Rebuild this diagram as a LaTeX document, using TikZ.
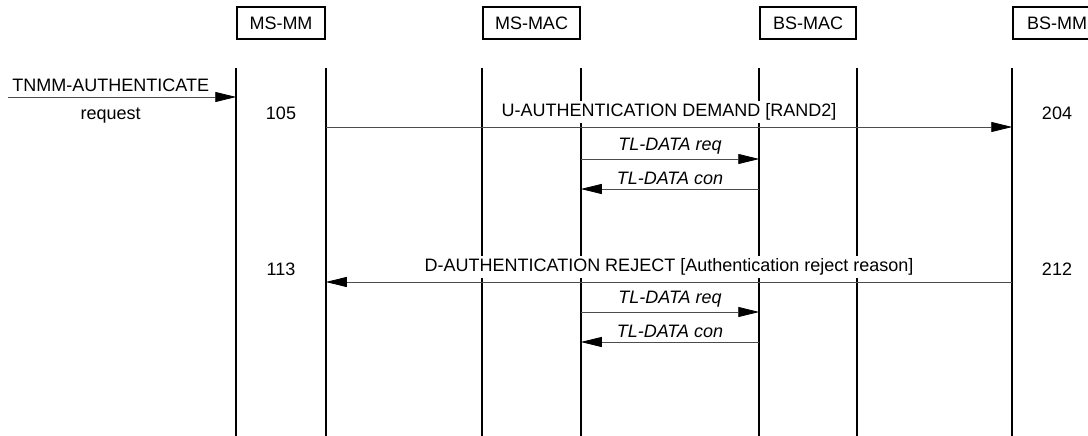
\documentclass[tikz,border=0pt]{standalone}
\usepackage{fontspec}
\setmainfont{Liberation Sans}
\usetikzlibrary{arrows.meta}
\tikzset{hdr/.style={draw,line width=1.5pt,minimum height=32pt,inner sep=0pt},
         life/.style={line width=1.8pt},
         msg/.style={-{Triangle[length=21pt,width=10pt,color=black]},line width=.8pt,draw=black!70},
         txt/.style={inner sep=2.5pt,fill=white},
         itl/.style={txt,font=\fontsize{18}{21}\selectfont\itshape}}

\begin{document}
\begin{tikzpicture}[x=1pt,y=-1pt,font=\fontsize{18}{21}\selectfont]
  \useasboundingbox (0,0) rectangle (1088,436);
  \clip (0,0) rectangle (1088,436);
  \node[hdr,minimum width=88pt] (msmm) at (281,23) {MS-MM};
  \node[hdr,minimum width=97pt] (msmac) at (531.5,23) {MS-MAC};
  \node[hdr,minimum width=96pt] (bsmac) at (808,23) {BS-MAC};
  \node[hdr,minimum width=88pt] (bsmm) at (1057,23) {BS-MM};
  \coordinate (top) at (0,68);
  \coordinate (bot) at (0,436);
  \foreach \n in {msmm,msmac,bsmac,bsmm}
    \draw[life] (\n.south west |- top) -- (\n.south west |- bot)
                (\n.south east |- top) -- (\n.south east |- bot);
  \coordinate (src) at (8,97);
  \coordinate (r2) at (0,127);
  \coordinate (r3) at (0,159);
  \coordinate (r4) at (0,189);
  \coordinate (r5) at (0,282);
  \coordinate (r6) at (0,312);
  \coordinate (r7) at (0,342);
  \draw[msg] (src) -- node[txt,pos=.45,above=2.5pt] (tnmm) {TNMM-AUTHENTICATE}
    node[txt,pos=.45,below=8pt] (req) {request} (msmm.south west |- src);
  \draw[msg] (msmm.south east |- r2) -- node[txt,above=3.5pt] (udem)
    {U-AUTHENTICATION DEMAND [RAND2]} (bsmm.south west |- r2);
  \draw[msg] (msmac.south east |- r3) -- node[itl,above=1.5pt] (req1)
    {TL-DATA req} (bsmac.south west |- r3);
  \draw[msg] (bsmac.south west |- r4) -- node[itl,above=1.5pt] (con1)
    {TL-DATA con} (msmac.south east |- r4);
  \draw[msg] (bsmm.south west |- r5) -- node[txt,above=3.5pt] (drej)
    {D-AUTHENTICATION REJECT [Authentication reject reason]} (msmm.south east |- r5);
  \draw[msg] (msmac.south east |- r6) -- node[itl,above=1.5pt] (req2)
    {TL-DATA req} (bsmac.south west |- r6);
  \draw[msg] (bsmac.south west |- r7) -- node[itl,above=1.5pt] (con2)
    {TL-DATA con} (msmac.south east |- r7);
  \node[anchor=base] (n105) at (281,120) {105};
  \node[anchor=base] (n204) at (1057,120) {204};
  \node[anchor=base] (n113) at (281,275) {113};
  \node[anchor=base] (n212) at (1057,275) {212};
\end{tikzpicture}
\end{document}
